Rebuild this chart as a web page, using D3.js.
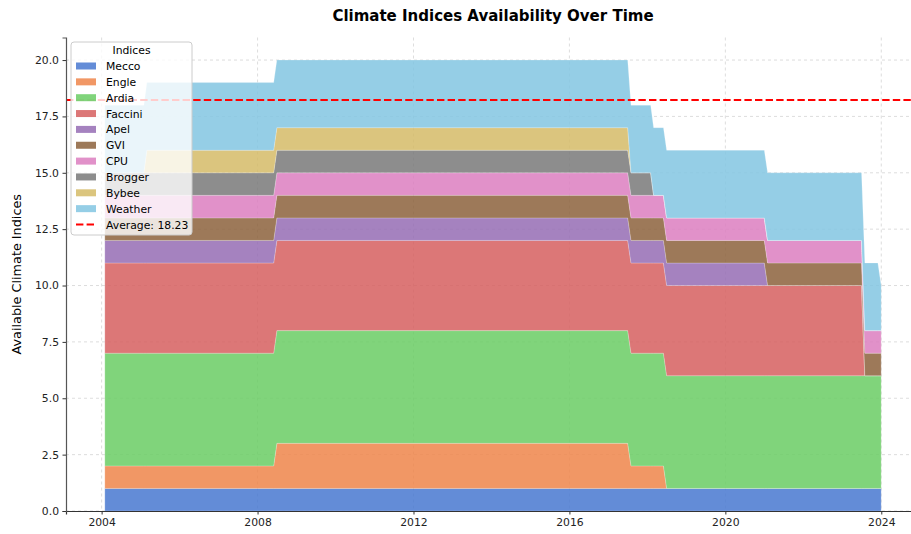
<!DOCTYPE html>
<html>
<head>
<meta charset="utf-8">
<script src="https://cdn.jsdelivr.net/npm/d3@7"></script>
<style>
  body { margin: 0; background: #fff; }
  svg { font-family: "DejaVu Sans", sans-serif; }
</style>
</head>
<body>
<svg id="chart" width="911" height="534"></svg>
<script>
// index names, bottom layer first
const indices = ['Mecco', 'Engle', 'Ardia', 'Faccini', 'Apel', 'GVI', 'CPU', 'Brogger', 'Bybee', 'Weather']
const colors  = ['#4878d0', '#ee854a', '#6acc64', '#d65f5f', '#956cb4', '#8c613c', '#dc7ec0', '#797979', '#d5bb67', '#82c6e2']

// periods of constant availability (monthly, first and last month)
const periodStart = ['2004-01', '2005-02', '2008-06', '2017-07', '2018-02', '2018-06', '2021-01', '2023-07', '2023-12']
const periodEnd   = ['2005-01', '2008-05', '2017-06', '2018-01', '2018-05', '2020-12', '2023-06', '2023-11', '2023-12']

// number of available series for each index in each period
const Mecco   = [1, 1, 1, 1, 1, 1, 1, 1, 1]
const Engle   = [1, 1, 2, 1, 1, 0, 0, 0, 0]
const Ardia   = [5, 5, 5, 5, 5, 5, 5, 5, 5]
const Faccini = [4, 4, 4, 4, 4, 4, 4, 0, 0]
const Apel    = [1, 1, 1, 1, 1, 1, 0, 0, 0]
const GVI     = [1, 1, 1, 1, 1, 1, 1, 1, 1]
const CPU     = [1, 1, 1, 1, 1, 1, 1, 1, 1]
const Brogger = [1, 1, 1, 1, 0, 0, 0, 0, 0]
const Bybee   = [0, 1, 1, 0, 0, 0, 0, 0, 0]
const Weather = [3, 3, 3, 3, 3, 3, 3, 3, 2]

const average = 18.23
const xTicks = [2004, 2008, 2012, 2016, 2020, 2024]
const yTicks = [0, 2.5, 5, 7.5, 10, 12.5, 15, 17.5, 20]

const counts = { Mecco, Engle, Ardia, Faccini, Apel, GVI, CPU, Brogger, Bybee, Weather }

// month string -> last day of that month
const parseMonth = d3.utcParse('%Y-%m')
function monthEnd(s){
  return d3.utcDay.offset(d3.utcMonth.offset(parseMonth(s), 1), -1)
}

// one row at the first and one at the last month of every period
const rows = []
periodStart.forEach((s, i) => {
  const dates = s === periodEnd[i] ? [monthEnd(s)] : [monthEnd(s), monthEnd(periodEnd[i])]
  dates.forEach(date => {
    const row = { date }
    indices.forEach(k => row[k] = counts[k][i])
    rows.push(row)
  })
})

const svg = d3.select('#chart')
const mLeft = 66, mRight = 920, mTop = 37.5, mBottom = 511

// x domain padded 5% each side, like matplotlib
const ext = d3.extent(rows, d => d.date)
const pad = (ext[1] - ext[0]) * 0.05
const x = d3.scaleUtc()
  .domain([new Date(+ext[0] - pad), new Date(+ext[1] + pad)])
  .range([mLeft, mRight])

const y = d3.scaleLinear().domain([0, 21]).range([mBottom, mTop])

// grid
const grid = svg.append('g')
  .attr('stroke', '#b0b0b0').attr('stroke-opacity', 0.55)
  .attr('stroke-dasharray', '3,3').attr('stroke-width', 0.8)
grid.selectAll('.gx').data(xTicks).join('line')
  .attr('x1', d => x(Date.UTC(d, 0, 1))).attr('x2', d => x(Date.UTC(d, 0, 1)))
  .attr('y1', mTop).attr('y2', mBottom)
grid.selectAll('.gy').data(yTicks).join('line')
  .attr('x1', mLeft).attr('x2', 911)
  .attr('y1', d => y(d)).attr('y2', d => y(d))

// stacked areas
const stack = d3.stack().keys(indices)
const series = stack(rows)
const area = d3.area()
  .x(d => x(d.data.date))
  .y0(d => y(d[0]))
  .y1(d => y(d[1]))

svg.append('g').selectAll('path')
  .data(series)
  .join('path')
    .attr('d', area)
    .attr('fill', (d, i) => colors[i])
    .attr('fill-opacity', 0.85)
    .attr('stroke', '#fff')
    .attr('stroke-opacity', 0.35)
    .attr('stroke-width', 0.6)

// average line
svg.append('line')
  .attr('x1', mLeft).attr('x2', 911)
  .attr('y1', y(average)).attr('y2', y(average))
  .attr('stroke', '#ff0000').attr('stroke-width', 2)
  .attr('stroke-dasharray', '7.4,3.2')

// axes
const xAxis = d3.axisBottom(x)
  .tickValues(xTicks.map(d => new Date(Date.UTC(d, 0, 1))))
  .tickFormat(d3.utcFormat('%Y'))
  .tickSizeOuter(0).tickSize(3.5).tickPadding(3.5)
const gx = svg.append('g').attr('transform', `translate(0,${mBottom})`).call(xAxis)
gx.select('.domain').attr('stroke', '#333').attr('stroke-width', 1.2)

const yAxis = d3.axisLeft(y)
  .tickValues(yTicks)
  .tickFormat(d3.format('.1f'))
  .tickSizeOuter(0).tickSize(3.5).tickPadding(3.5)
const gy = svg.append('g').attr('transform', `translate(${mLeft},0)`).call(yAxis)
gy.select('.domain').attr('stroke', '#555').attr('stroke-width', 1.2)

svg.selectAll('.tick text').attr('font-size', 10.8).attr('fill', '#222')
  .attr('font-family', 'DejaVu Sans')
svg.selectAll('.tick line').attr('stroke', '#333')

// labels
svg.append('text')
  .attr('x', (mLeft + mRight) / 2).attr('y', 21)
  .attr('text-anchor', 'middle')
  .attr('font-size', 15).attr('font-weight', 'bold')
  .text('Climate Indices Availability Over Time')

svg.append('text')
  .attr('transform', `translate(21,${(mTop + mBottom) / 2}) rotate(-90)`)
  .attr('text-anchor', 'middle')
  .attr('font-size', 12.8)
  .text('Available Climate Indices')

// legend
const lg = svg.append('g').attr('transform', 'translate(71,42)')
lg.append('rect')
  .attr('width', 121).attr('height', 193)
  .attr('rx', 3)
  .attr('fill', '#fff').attr('fill-opacity', 0.8)
  .attr('stroke', '#ccc').attr('stroke-width', 1)
lg.append('text')
  .attr('x', 60.5).attr('y', 12)
  .attr('text-anchor', 'middle').attr('font-size', 10.8)
  .text('Indices')

const rowH = 15.85
const items = lg.selectAll('.item')
  .data(indices)
  .join('g')
    .attr('transform', (d, i) => `translate(5,${20.5 + i * rowH})`)
items.append('rect')
  .attr('width', 20).attr('height', 7)
  .attr('fill', (d, i) => colors[i]).attr('fill-opacity', 0.85)
items.append('text')
  .attr('x', 30).attr('y', 7.5)
  .attr('font-size', 10.8)
  .text(d => d)

const avgItem = lg.append('g').attr('transform', `translate(5,${20.5 + indices.length * rowH})`)
avgItem.append('line')
  .attr('x1', 0).attr('x2', 20).attr('y1', 3.5).attr('y2', 3.5)
  .attr('stroke', '#ff0000').attr('stroke-width', 2)
  .attr('stroke-dasharray', '7.4,3.2')
avgItem.append('text')
  .attr('x', 30).attr('y', 7.5)
  .attr('font-size', 10.8)
  .text(`Average: ${average.toFixed(2)}`)
</script>
</body>
</html>
